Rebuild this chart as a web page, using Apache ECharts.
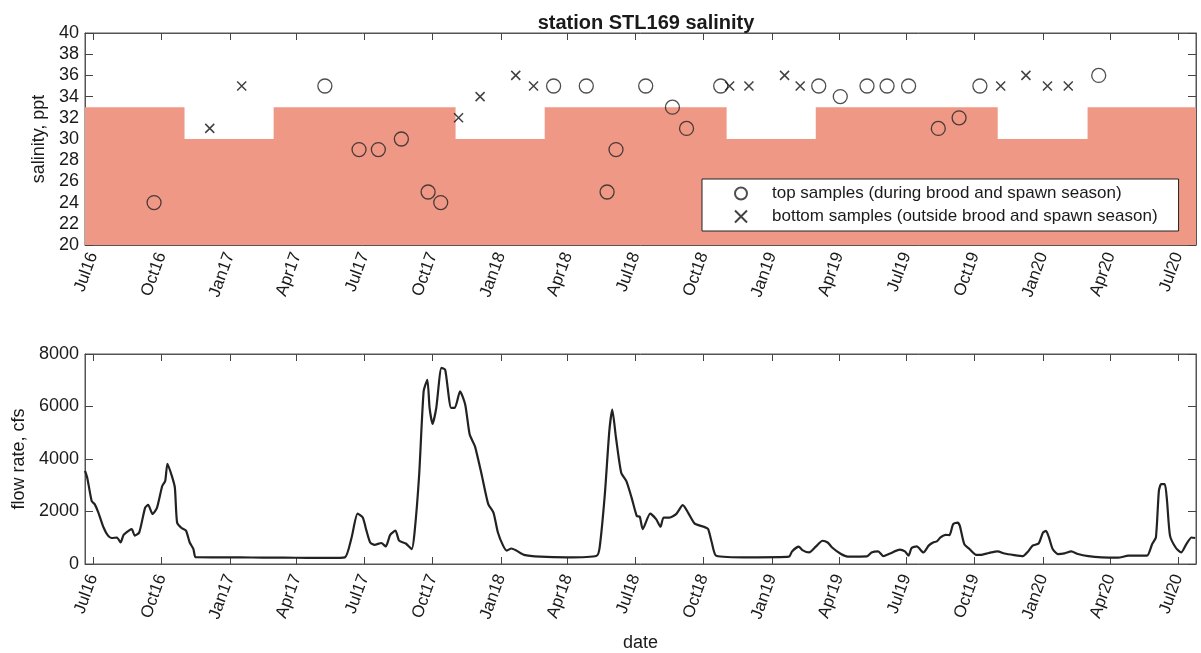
<!DOCTYPE html>
<html>
<head>
<meta charset="utf-8">
<script src="https://cdn.jsdelivr.net/npm/echarts@6/dist/echarts.min.js"></script>
<style>html,body{margin:0;padding:0;background:#fff}#chart{width:1201px;height:653px}</style>
</head>
<body>
<div id="chart"></div>
<script>
// ---- data ----
const tickDates = ['2016-07-01','2016-10-01','2017-01-01','2017-04-01','2017-07-01','2017-10-01','2018-01-01','2018-04-01','2018-07-01','2018-10-01','2019-01-01','2019-04-01','2019-07-01','2019-10-01','2020-01-01','2020-04-01','2020-07-01'];
const tickLabels = ['Jul16','Oct16','Jan17','Apr17','Jul17','Oct17','Jan18','Apr18','Jul18','Oct18','Jan19','Apr19','Jul19','Oct19','Jan20','Apr20','Jul20'];

const seasonDates = ['2016-06-20','2016-11-01','2017-03-01','2017-11-01','2018-03-01','2018-11-01','2019-03-01','2019-11-01','2020-03-01','2020-07-25'];
const seasonLevels = [33,30,33,30,33,30,33,30,33,33];

const topDates = ['2016-09-21','2017-05-09','2017-06-24','2017-07-20','2017-08-20','2017-09-25','2017-10-12','2018-03-13','2018-04-26','2018-05-24','2018-06-05','2018-07-15','2018-08-20','2018-09-08','2018-10-24','2019-03-05','2019-04-03','2019-05-09','2019-06-05','2019-07-04','2019-08-13','2019-09-10','2019-10-08','2020-03-16'];
const topSalinity = [24,35,29,29,30,25,24,35,35,25,29,35,33,31,35,35,34,35,35,35,31,32,35,36];

const bottomDates = ['2016-12-05','2017-01-17','2017-11-05','2017-12-04','2018-01-21','2018-02-14','2018-11-05','2018-12-01','2019-01-18','2019-02-08','2019-11-05','2019-12-09','2020-01-07','2020-02-04'];
const bottomSalinity = [31,35,32,34,36,35,35,35,36,35,35,36,35,35];

const flowDates = ['2016-06-20','2016-06-23','2016-06-29','2016-07-03','2016-07-08','2016-07-15','2016-07-21','2016-07-26','2016-08-02','2016-08-07','2016-08-11','2016-08-19','2016-08-22','2016-08-26','2016-09-01','2016-09-09','2016-09-13','2016-09-19','2016-09-25','2016-10-02','2016-10-06','2016-10-09','2016-10-15','2016-10-19','2016-10-22','2016-10-28','2016-11-03','2016-11-08','2016-11-13','2016-11-16','2016-12-15','2017-01-15','2017-02-15','2017-03-15','2017-04-15','2017-05-15','2017-06-05','2017-06-14','2017-06-22','2017-06-29','2017-07-04','2017-07-09','2017-07-15','2017-07-24','2017-07-30','2017-08-05','2017-08-12','2017-08-17','2017-08-26','2017-09-03','2017-09-07','2017-09-13','2017-09-19','2017-09-24','2017-09-27','2017-10-01','2017-10-06','2017-10-13','2017-10-18','2017-10-26','2017-10-31','2017-11-07','2017-11-14','2017-11-20','2017-11-27','2017-12-06','2017-12-15','2017-12-22','2017-12-28','2018-01-04','2018-01-09','2018-01-15','2018-01-22','2018-02-01','2018-02-23','2018-03-31','2018-05-10','2018-05-14','2018-05-21','2018-05-27','2018-05-31','2018-06-05','2018-06-12','2018-06-19','2018-06-26','2018-07-03','2018-07-07','2018-07-11','2018-07-21','2018-07-29','2018-08-04','2018-08-08','2018-08-16','2018-08-25','2018-09-03','2018-09-10','2018-09-19','2018-10-01','2018-10-07','2018-10-12','2018-10-18','2018-12-02','2019-01-24','2019-01-28','2019-02-06','2019-02-11','2019-02-20','2019-03-01','2019-03-10','2019-03-17','2019-03-23','2019-04-04','2019-04-13','2019-05-09','2019-05-15','2019-05-24','2019-05-31','2019-06-09','2019-06-22','2019-06-29','2019-07-04','2019-07-08','2019-07-15','2019-07-24','2019-07-31','2019-08-06','2019-08-11','2019-08-16','2019-08-23','2019-08-28','2019-09-02','2019-09-08','2019-09-11','2019-09-17','2019-09-24','2019-10-03','2019-10-09','2019-10-20','2019-11-01','2019-11-10','2019-11-23','2019-12-05','2019-12-12','2019-12-18','2019-12-26','2020-01-01','2020-01-05','2020-01-09','2020-01-14','2020-01-21','2020-01-30','2020-02-08','2020-02-17','2020-03-02','2020-03-20','2020-04-11','2020-04-25','2020-05-20','2020-05-27','2020-06-01','2020-06-05','2020-06-08','2020-06-13','2020-06-16','2020-06-20','2020-06-28','2020-07-05','2020-07-12','2020-07-19','2020-07-24'];
const flowValues = [3550,3290,2400,2280,1960,1390,1080,990,1010,820,1110,1290,1330,1080,1200,2150,2250,1900,2150,2970,3160,3820,3350,2910,1580,1370,1270,820,570,260,255,250,245,240,235,230,253,1010,1920,1770,1270,820,730,800,670,1110,1270,890,780,570,1270,3420,6580,7020,5950,5340,5950,7470,7400,5950,5950,6580,6070,4930,4490,3420,2280,1960,1200,700,510,590,510,350,280,253,316,630,2660,5060,5880,4810,3480,3160,2530,1830,1800,1330,1920,1710,1420,1770,1770,1900,2240,1960,1540,1420,1330,820,316,253,278,480,660,530,440,660,885,820,630,380,280,290,440,480,300,400,545,480,316,610,670,440,700,820,860,1010,1110,1100,1520,1580,1450,760,570,350,350,420,480,400,340,300,480,700,780,1200,1265,1010,570,380,405,480,380,300,253,240,316,316,760,1010,2780,3040,3040,2400,1080,610,440,760,1010,990];

const xMinDate = '2016-06-20';
const xMaxDate = '2020-07-25';

// ---- helpers ----
const ts = s => new Date(s + 'T00:00:00').getTime();
const tickTs = tickDates.map(ts);
const pair = (d, v) => d.map((s, i) => [ts(s), v[i]]);
const labelFor = v => {
  for (let i = 0; i < tickTs.length; i++) if (Math.abs(tickTs[i] - v) < 43200000) return tickLabels[i];
  return '';
};
const FONT = "'Liberation Sans', Arial, sans-serif";
const TXT = '#1a1a1a';
const FRAME = '#555';
const topName = 'top samples (during brood and spawn season)';
const botName = 'bottom samples (outside brood and spawn season)';
const crossPath = 'path://M0,0L10,10M10,0L0,10';

const grids = [
  {left: 85, right: 5, top: 33, height: 212, show: true, borderColor: FRAME, borderWidth: 1, backgroundColor: 'transparent'},
  {left: 85, right: 5, top: 354, height: 211, show: true, borderColor: FRAME, borderWidth: 1, backgroundColor: 'transparent'}
];

function xAxisDef(gi, pos, labels, margin, extra) {
  return Object.assign({
    type: 'value', gridIndex: gi, position: pos,
    min: ts(xMinDate), max: ts(xMaxDate),
    splitLine: {show: false},
    axisLine: {show: true, onZero: false, lineStyle: {color: FRAME, width: 1}},
    axisTick: {show: true, inside: true, length: 7, customValues: tickTs, lineStyle: {color: '#444'}},
    axisLabel: labels ? {show: true, customValues: tickTs, rotate: 70, margin: margin, fontSize: 17, fontFamily: FONT, color: TXT, formatter: labelFor, hideOverlap: false} : {show: false}
  }, extra || {});
}
function yAxisDef(gi, pos, min, max, interval, labels, extra) {
  return Object.assign({
    type: 'value', gridIndex: gi, position: pos, min, max, interval,
    splitLine: {show: false},
    axisLine: {show: true, onZero: false, lineStyle: {color: FRAME, width: 1}},
    axisTick: {show: true, inside: true, length: 8, lineStyle: {color: '#444'}},
    axisLabel: labels ? {show: true, margin: 6, fontSize: 18, fontFamily: FONT, color: TXT, formatter: v => String(v)} : {show: false}
  }, extra || {});
}

const option = {
  animation: false,
  backgroundColor: '#fff',
  title: {
    text: 'station STL169 salinity', left: 641, top: 8, textAlign: 'center',
    textStyle: {fontSize: 20, fontWeight: 'bold', fontFamily: FONT, color: TXT}
  },
  grid: grids,
  xAxis: [
    xAxisDef(0, 'bottom', true, 8),
    xAxisDef(0, 'top', false, 0),
    xAxisDef(1, 'bottom', true, 11, {name: 'date', nameLocation: 'middle', nameGap: 70, nameTextStyle: {fontSize: 18, fontFamily: FONT, color: TXT}}),
    xAxisDef(1, 'top', false, 0)
  ],
  yAxis: [
    yAxisDef(0, 'left', 20, 40, 2, true, {name: 'salinity, ppt', nameLocation: 'middle', nameGap: 33, nameTextStyle: {fontSize: 18, fontFamily: FONT, color: TXT}}),
    yAxisDef(0, 'right', 20, 40, 2, false),
    yAxisDef(1, 'left', 0, 8000, 2000, true, {name: 'flow rate, cfs', nameLocation: 'middle', nameGap: 57, nameTextStyle: {fontSize: 18, fontFamily: FONT, color: TXT}}),
    yAxisDef(1, 'right', 0, 8000, 2000, false)
  ],
  legend: {
    data: [{name: topName, icon: 'circle'}, {name: botName, icon: crossPath}],
    orient: 'vertical', left: 702, top: 179,
    backgroundColor: '#fff', borderColor: '#222', borderWidth: 1,
    padding: [6, 21, 6, 32], itemGap: 6, itemWidth: 12, itemHeight: 12,
    textStyle: {fontSize: 17, fontFamily: FONT, color: TXT, padding: [0, 0, 0, 20]}
  },
  series: [
    {
      name: 'season', type: 'line', xAxisIndex: 0, yAxisIndex: 0, step: 'end',
      data: pair(seasonDates, seasonLevels), showSymbol: false, silent: true,
      lineStyle: {width: 0, color: '#F09886'},
      areaStyle: {color: '#F09886', opacity: 1, origin: 'start'}, z: 1
    },
    {
      name: topName, type: 'scatter', xAxisIndex: 0, yAxisIndex: 0,
      data: pair(topDates, topSalinity), symbol: 'circle', symbolSize: 14,
      itemStyle: {color: 'rgba(0,0,0,0)', borderColor: '#222', borderWidth: 1.3}, z: 3
    },
    {
      name: botName, type: 'scatter', xAxisIndex: 0, yAxisIndex: 0,
      data: pair(bottomDates, bottomSalinity), symbol: crossPath, symbolSize: 9,
      itemStyle: {color: 'rgba(0,0,0,0)', borderColor: '#111', borderWidth: 1.5}, z: 3
    },
    {
      name: 'flow', type: 'line', xAxisIndex: 2, yAxisIndex: 2,
      data: pair(flowDates, flowValues), showSymbol: false, smooth: 0.2,
      lineStyle: {color: '#222', width: 2.2}, z: 3
    }
  ]
};

const chart = echarts.init(document.getElementById('chart'), null, {renderer: 'canvas'});
chart.setOption(option);
</script>
</body>
</html>
